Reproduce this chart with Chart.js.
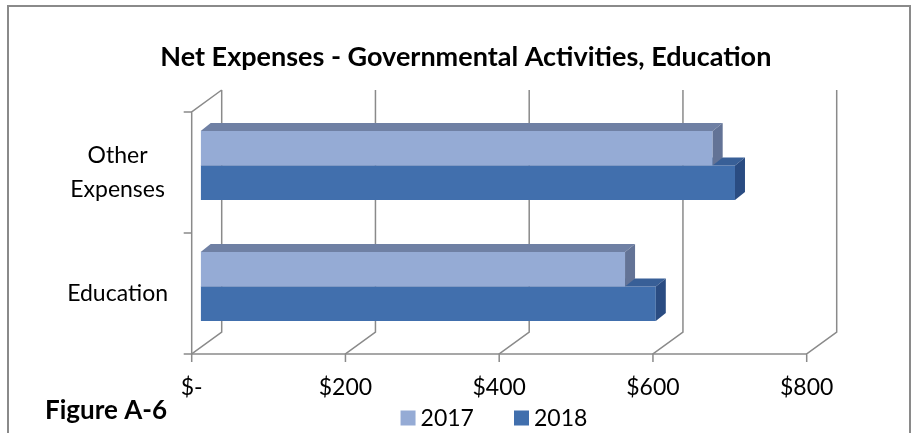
<!DOCTYPE html>
<html>
<head>
<meta charset="utf-8">
<script src="https://cdn.jsdelivr.net/npm/chart.js@4.4.0/dist/chart.umd.min.js"></script>
<style>
  body { margin: 0; background: #fff; }
  canvas { display: block; }
</style>
</head>
<body>
<canvas id="despesasChart" width="919" height="433"></canvas>
<script>
// dados do grafico
const categorias = [["Other", "Expenses"], "Education"];
const anos = ["2017", "2018"];
const valores2017 = [666, 552];
const valores2018 = [695, 592];
const ticksX = [0, 200, 400, 600, 800];
const rotulosX = ["$-", "$200", "$400", "$600", "$800"];

// efeito 3D: deslocamentos em pixels a partir do plano das barras
const profundidadeBarra = { dx: 10, dy: -8 };
const planoFrente = { dx: -9, dy: 7 };
const planoFundo = { dx: 21, dy: -15 };

const cores = {
  frente: ["#95abd5", "#416fad"],
  topo: ["#6f80a4", "#385f97"],
  lado: ["#637396", "#2a4c82"],
};
const corLinha = "#8a8a8a";

// paredes e linhas de grade em perspectiva
const paredes = {
  id: "paredes",
  beforeDatasetsDraw(chart) {
    const { ctx, chartArea, scales } = chart;
    const yFrenteBase = chartArea.bottom + planoFrente.dy;
    const yFrenteTopo = chartArea.top + planoFrente.dy;
    const yFundoBase = chartArea.bottom + planoFundo.dy;
    const yFundoTopo = chartArea.top + planoFundo.dy;
    ctx.save();
    ctx.strokeStyle = corLinha;
    ctx.lineWidth = 1.5;

    ticksX.forEach((v) => {
      const px = scales.x.getPixelForValue(v);
      ctx.beginPath();
      ctx.moveTo(px + planoFrente.dx, yFrenteBase + 8);
      ctx.lineTo(px + planoFrente.dx, yFrenteBase);
      ctx.lineTo(px + planoFundo.dx, yFundoBase);
      ctx.lineTo(px + planoFundo.dx, yFundoTopo);
      ctx.stroke();
    });

    const x0 = scales.x.getPixelForValue(ticksX[0]);
    const x1 = scales.x.getPixelForValue(ticksX[ticksX.length - 1]);

    // eixo horizontal da frente
    ctx.beginPath();
    ctx.moveTo(x0 + planoFrente.dx, yFrenteBase);
    ctx.lineTo(x1 + planoFrente.dx, yFrenteBase);
    ctx.stroke();

    // eixo vertical da frente e diagonal do topo
    ctx.beginPath();
    ctx.moveTo(x0 + planoFundo.dx, yFundoTopo);
    ctx.lineTo(x0 + planoFrente.dx, yFrenteTopo);
    ctx.lineTo(x0 + planoFrente.dx, yFrenteBase);
    ctx.stroke();

    // marcas entre as categorias
    const meio = (scales.y.getPixelForValue(0) + scales.y.getPixelForValue(1)) / 2;
    [chartArea.top, meio, chartArea.bottom].forEach((py) => {
      ctx.beginPath();
      ctx.moveTo(x0 + planoFrente.dx - 8, py + planoFrente.dy);
      ctx.lineTo(x0 + planoFrente.dx, py + planoFrente.dy);
      ctx.stroke();
    });
    ctx.restore();
  },
};

// faces de cima e do lado de cada barra
const barras3d = {
  id: "barras3d",
  afterDatasetDraw(chart, args) {
    const { ctx } = chart;
    const i = args.index;
    const d = profundidadeBarra;
    ctx.save();
    args.meta.data.forEach((el) => {
      const { x, y, base, height } = el.getProps(["x", "y", "base", "height"], true);
      const topo = y - height / 2;
      const baixo = y + height / 2;

      ctx.fillStyle = cores.topo[i];
      ctx.beginPath();
      ctx.moveTo(base, topo);
      ctx.lineTo(x, topo);
      ctx.lineTo(x + d.dx, topo + d.dy);
      ctx.lineTo(base + d.dx, topo + d.dy);
      ctx.closePath();
      ctx.fill();

      ctx.fillStyle = cores.lado[i];
      ctx.beginPath();
      ctx.moveTo(x, topo);
      ctx.lineTo(x + d.dx, topo + d.dy);
      ctx.lineTo(x + d.dx, baixo + d.dy);
      ctx.lineTo(x, baixo);
      ctx.closePath();
      ctx.fill();
    });
    ctx.restore();
  },
};

// ajusta titulo e legenda, desenha a moldura e o texto da figura
const moldura = {
  id: "moldura",
  afterLayout(chart) {
    chart.titleBlock.left += 33;
    chart.titleBlock.right += 33;
    chart.legend.left -= 11;
    chart.legend.right -= 11;
    chart.legend.top -= 44;
    chart.legend.bottom -= 44;
  },
  afterDraw(chart) {
    const { ctx } = chart;
    ctx.save();
    ctx.strokeStyle = corLinha;
    ctx.lineWidth = 2;
    ctx.strokeRect(8, 6, 902, 450);
    ctx.fillStyle = "#000";
    ctx.font = "bold 26px Lato";
    ctx.textBaseline = "middle";
    ctx.fillText("Figure A-6", 45, 411);
    ctx.restore();
  },
};

Chart.defaults.font.family = "Lato";
Chart.defaults.color = "#000";

var ctx = document.getElementById("despesasChart").getContext("2d");
var grafico = new Chart(ctx, {
  type: "bar",
  data: {
    labels: categorias,
    datasets: [
      { label: anos[0], data: valores2017, backgroundColor: cores.frente[0], borderWidth: 0 },
      { label: anos[1], data: valores2018, backgroundColor: cores.frente[1], borderWidth: 0 },
    ],
  },
  options: {
    indexAxis: "y",
    responsive: false,
    animation: false,
    categoryPercentage: 0.57,
    barPercentage: 1,
    layout: { padding: { left: 50, right: 103.3, top: 0, bottom: -50.6 } },
    scales: {
      x: {
        min: 0,
        max: 800,
        afterBuildTicks: (s) => { s.ticks = ticksX.map((v) => ({ value: v })); },
        afterFit: (s) => { s.height = 57; },
        ticks: {
          callback: (v, i) => rotulosX[i],
          font: { size: 23 },
          padding: 27.2,
          labelOffset: planoFrente.dx,
          maxRotation: 0,
        },
        grid: { display: false, drawTicks: false },
        border: { display: false },
      },
      y: {
        afterFit: (s) => { s.width = 150.7; },
        ticks: {
          crossAlign: "center",
          padding: 32.7,
          labelOffset: planoFrente.dy,
          font: { size: 23, lineHeight: 1.45 },
        },
        grid: { display: false, drawTicks: false },
        border: { display: false },
      },
    },
    plugins: {
      title: {
        display: true,
        text: "Net Expenses - Governmental Activities, Education",
        font: { size: 27, weight: "bold" },
        padding: { top: 40.8, bottom: 31.8 },
      },
      legend: {
        position: "bottom",
        fullSize: false,
        labels: {
          usePointStyle: true,
          pointStyle: "rect",
          boxWidth: 2,
          boxHeight: 15,
          padding: 46.6,
          font: { size: 23 },
        },
      },
      tooltip: { enabled: false },
    },
  },
  plugins: [paredes, barras3d, moldura],
});
</script>
</body>
</html>
